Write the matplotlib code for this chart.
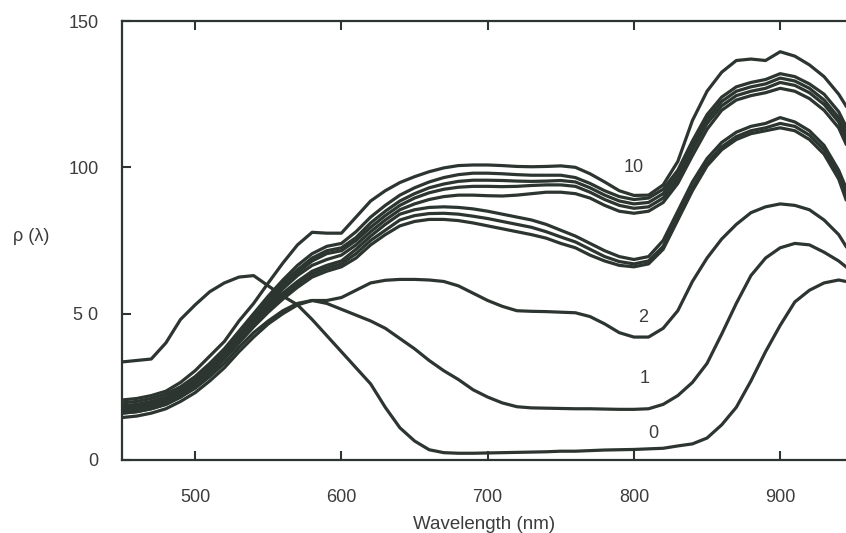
import matplotlib
matplotlib.use("Agg")
import matplotlib.pyplot as plt

# wavelength grid (nm)
wl = list(range(450, 950, 10)) + [945]

# labelled curves
r0 = [33.5, 34, 34.5, 40, 48, 53, 57.5, 60.5, 62.5, 63,
      59.5, 56, 53, 48, 42.5, 37, 31.5, 26, 18, 11,
      6.5, 3.5, 2.5, 2.3, 2.3, 2.4, 2.5, 2.6, 2.7, 2.8,
      3, 3, 3.2, 3.4, 3.5, 3.6, 3.8, 4, 4.8, 5.5,
      7.5, 12, 18, 27, 37, 46, 54, 58, 60.5, 61.5,
      61]
r1 = [14.5, 15, 16, 17.5, 20, 23, 27, 31.5, 37, 42,
      46.5, 50, 53, 54.5, 53.5, 51.5, 49.5, 47.5, 45, 41.5,
      38, 34, 30.5, 27.5, 24, 21.5, 19.5, 18.2, 17.8, 17.7,
      17.6, 17.5, 17.5, 17.4, 17.3, 17.3, 17.5, 19, 22, 26.5,
      33, 43, 53.5, 63, 69, 72.5, 74, 73.5, 71, 68,
      66]
r2 = [16, 16.5, 17.5, 19, 21.5, 24.5, 28.5, 33, 38.5, 43.5,
      47.5, 51, 53.5, 54.5, 54.5, 55.5, 58, 60.5, 61.4, 61.7,
      61.7, 61.5, 61, 59.5, 57, 54.5, 52.5, 51, 50.8, 50.7,
      50.5, 50.3, 49, 46.5, 43.5, 42, 42, 45, 51, 61,
      69, 75.5, 80.5, 84.5, 86.5, 87.5, 87, 85.5, 82, 77,
      73]

# the bundle (curves 3..10)
b_a = [20.5, 21, 22, 23.5, 26.5, 30.5, 35.5, 40.5, 47.5, 53.5,
       60.5, 67.3, 73.5, 77.8, 77.5, 77.5, 83, 88.5, 92, 94.8,
       96.8, 98.5, 99.8, 100.6, 100.8, 100.8, 100.6, 100.3, 100.2, 100.3,
       100.5, 100, 97.8, 95, 92, 90.4, 90.5, 94, 102, 116,
       126, 132.5, 136.5, 137, 136.5, 139.5, 138, 135, 131, 125,
       121]
b_b = [19.5, 20, 21, 22.5, 25, 28.5, 33, 38, 44, 50,
       56, 61.5, 66.5, 70.5, 73, 74, 78, 83, 87, 90.5,
       93, 95, 96.5, 97.5, 98, 98, 97.8, 97.5, 97.3, 97.3,
       97.3, 96.5, 94.5, 92, 90, 89, 89.5, 92.5, 99, 109,
       118, 124, 127.5, 129, 130, 132, 131, 128.5, 125, 119,
       114]
b_c = [18.5, 19, 20, 21.5, 24, 27.5, 32, 37, 43, 49,
       55, 60.5, 65, 69, 71.5, 72.5, 76, 81, 85, 88.5,
       91, 93, 94.3, 95.2, 95.6, 95.6, 95.5, 95.3, 95.2, 95.3,
       95.5, 95, 93, 90.5, 88.5, 87.5, 88, 91, 97.5, 107.5,
       116.5, 122.5, 126, 127.5, 128.5, 130.5, 129.5, 127, 123, 117,
       112]
b_d = [18, 18.5, 19.5, 21, 23.5, 27, 31.5, 36.5, 42, 48,
       54, 59.5, 64, 68, 70.5, 71.5, 75, 79.5, 83.5, 87,
       89.5, 91.3, 92.5, 93.2, 93.5, 93.5, 93.4, 93.5, 93.8, 94,
       94, 93.5, 91.5, 89, 87, 86, 86.5, 89.5, 96, 106,
       115, 121, 124.5, 126, 127, 129, 128, 125.5, 121.5, 115.5,
       110]
b_e = [17.5, 18, 19, 20.5, 23, 26.5, 31, 36, 41.5, 47,
       53, 58.5, 63, 66.5, 68.5, 70, 73.5, 78, 82, 85.5,
       87.5, 89, 90, 90.5, 90.5, 90.3, 90.2, 90.5, 91, 91.5,
       91.5, 91, 89.5, 87, 85, 84.3, 85, 88, 94.5, 104,
       113, 119.5, 123, 124.5, 125.5, 127, 126, 123.5, 119.5, 113.5,
       108]
b_f = [17, 17.5, 18.5, 20, 22.5, 26, 30.5, 35.5, 41, 46.5,
       52, 57, 61, 64.5, 66.5, 68, 72, 76.5, 80.5, 84,
       85.5, 86.3, 86.5, 86.3, 85.8, 85, 84, 83, 82, 80.5,
       78.5, 76.5, 74, 71.5, 69.5, 68.5, 69.5, 75, 85, 95,
       103, 108.5, 112, 114, 115, 117, 115.5, 112.5, 107.5, 99,
       93]
b_g = [16.5, 17, 18, 19.5, 22, 25.5, 30, 35, 40.5, 46,
       51, 56, 60, 63.5, 65.5, 67, 70.5, 75, 78.5, 82,
       83.5, 84.2, 84.3, 84, 83.3, 82.5, 81.5, 80.5, 79.5, 78,
       76.2, 74.5, 72, 69.5, 67.8, 67, 68, 73, 83, 93,
       101.5, 107, 110.5, 112.5, 113.5, 115, 114, 111, 106, 97.5,
       91]
b_h = [16, 16.5, 17.5, 19, 21.5, 25, 29.5, 34.5, 40, 45.5,
       50.5, 55, 59, 62.5, 64.5, 66, 69, 73.5, 77, 80,
       81.5, 82.2, 82.2, 81.8, 81, 80, 79, 78, 77, 75.8,
       74, 72.5, 70, 68, 66.5, 66, 67, 72, 82, 92,
       100.5, 106, 109.5, 111.5, 112.5, 113.5, 112.5, 109.5, 104.5, 96,
       89]

curves = [r0, r1, r2, b_h, b_g, b_f, b_e, b_d, b_c, b_b, b_a]

# curve labels and where they sit
lab_text = ["10", "2", "1", "0"]
lab_x = [800, 806, 807.5, 813]
lab_y = [100, 48.8, 28, 9.2]

ink = "#2c3530"
txt = "#3c3c3c"
plt.rcParams['font.family'] = ['Liberation Sans', 'DejaVu Sans']

fig = plt.figure(figsize=(8.46, 5.33), dpi=100)
ax = fig.add_axes([0.1442, 0.137, 0.8558, 0.8236])

for c in curves:
    ax.plot(wl, c, color=ink, lw=2.3, solid_joinstyle='round')

for t, x, y in zip(lab_text, lab_x, lab_y):
    ax.text(x, y, t, ha='center', va='center', fontsize=13, color=txt)

ax.set_xlim(450, 945)
ax.set_ylim(0, 150)
ax.set_xticks([500, 600, 700, 800, 900])
ax.set_yticks([0, 50, 100, 150])
ax.set_yticklabels(["0", "5 0", "100", "150"])

ax.spines['right'].set_visible(False)
for s in ['left', 'bottom', 'top']:
    ax.spines[s].set_color(ink)
    ax.spines[s].set_linewidth(1.6)

ax.tick_params(axis='x', direction='in', top=True, length=6.5, width=1.5,
               color=ink, labelsize=13, labelcolor=txt, pad=21)
ax.tick_params(axis='y', direction='in', right=False, length=6.5, width=1.5,
               color=ink, labelsize=13, labelcolor=txt, pad=17)

ax.set_xlabel("Wavelength (nm)", fontsize=13.5, color=txt, labelpad=7)
ax.text(-0.15, 0.51, "ρ (λ)", transform=ax.transAxes, fontsize=13,
        color=txt, ha='left', va='center')

fig.savefig("out.png", dpi=100)
